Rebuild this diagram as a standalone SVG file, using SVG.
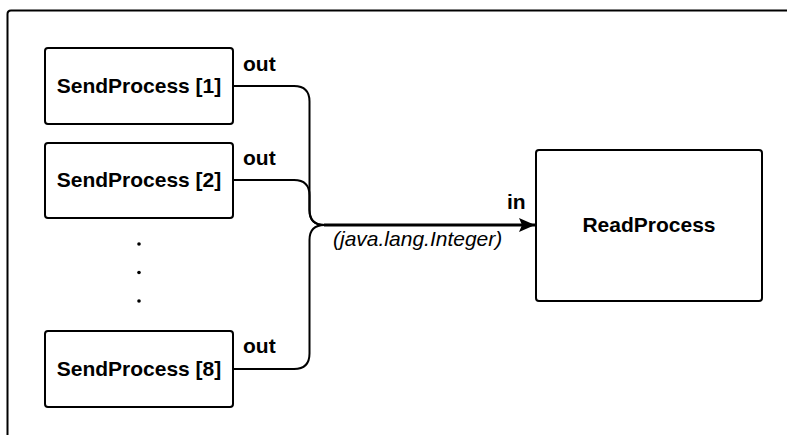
<svg xmlns="http://www.w3.org/2000/svg" width="787" height="435" viewBox="0 0 787 435">
  <defs>
    <style>
      .box { fill: #ffffff; stroke: #000000; stroke-width: 2; }
      .name { font-family: "Liberation Sans", Arial, sans-serif; font-size: 21px; font-weight: bold; fill: #000000; text-anchor: middle; }
      .port { font-family: "Liberation Sans", Arial, sans-serif; font-size: 21px; font-weight: bold; fill: #000000; }
      .type { font-family: "Liberation Sans", Arial, sans-serif; font-size: 21px; font-style: italic; fill: #000000; }
      .wire { fill: none; stroke: #000000; stroke-width: 2; }
      .trunk { fill: none; stroke: #000000; stroke-width: 3; }
    </style>
    <marker id="arrow" viewBox="0 0 16 14" refX="16" refY="7" markerWidth="16" markerHeight="14" markerUnits="userSpaceOnUse" orient="auto">
      <path d="M0,0 L16,7 L0,14 L3,7 Z" fill="#000000"/>
    </marker>
  </defs>

  <rect width="787" height="435" fill="#ffffff"/>

  <!-- enclosing frame, open to the right and bottom -->
  <path d="M7.5,440 L7.5,14 Q7.5,10.5 11,10.5 L792,10.5" fill="none" stroke="#000000" stroke-width="2"/>

  <g id="send1">
    <rect class="box" x="45" y="48" width="188" height="76" rx="3"/>
    <text class="name" x="139" y="93">SendProcess [1]</text>
  </g>

  <g id="send2">
    <rect class="box" x="45" y="143" width="188" height="75" rx="3"/>
    <text class="name" x="139" y="187">SendProcess [2]</text>
  </g>

  <g id="ellipsis">
    <circle cx="139" cy="244" r="1.8" fill="#000000"/>
    <circle cx="139" cy="272.5" r="1.8" fill="#000000"/>
    <circle cx="139" cy="301" r="1.8" fill="#000000"/>
  </g>

  <g id="send8">
    <rect class="box" x="45" y="331" width="188" height="76" rx="3"/>
    <text class="name" x="139" y="376">SendProcess [8]</text>
  </g>

  <g id="read">
    <rect class="box" x="536" y="150" width="226" height="151" rx="3"/>
    <text class="name" x="649" y="232">ReadProcess</text>
  </g>

  <g id="connectors">
    <path class="wire" d="M233,86 L294,86 Q309.5,86 309.5,101.5 L309.5,210 Q309.5,225 324.5,225"/>
    <path class="wire" d="M233,180 L294,180 Q309.5,180 309.5,195.5 L309.5,210 Q309.5,225 324.5,225"/>
    <path class="wire" d="M233,369 L294,369 Q309.5,369 309.5,353.5 L309.5,240 Q309.5,225 324.5,225"/>
    <path class="trunk" d="M324,225 L535,225" marker-end="url(#arrow)"/>
    <text class="port" x="243" y="71">out</text>
    <text class="port" x="243" y="165">out</text>
    <text class="port" x="243" y="353">out</text>
    <text class="port" x="507" y="209">in</text>
    <text class="type" x="333" y="246">(java.lang.Integer)</text>
  </g>
</svg>
